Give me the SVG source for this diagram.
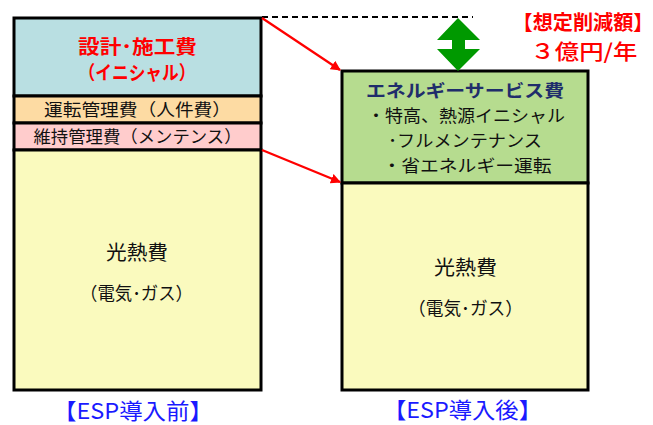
<svg xmlns="http://www.w3.org/2000/svg" width="653" height="425" viewBox="0 0 653 425">
<defs>
<style>
text{font-family:"Noto Sans CJK JP","Noto Sans CJK SC",sans-serif;text-anchor:middle}
.box{stroke:#000;stroke-width:3}
.k{fill:#111;font-size:17px}
.big{font-size:20px}
.paren{font-size:18px}
.red{fill:#FF0000;font-weight:bold}
.blue{fill:#1A1AFF;font-size:22px}
.conn{stroke:#FF0000;stroke-width:2.2;fill:none}
</style>
<marker id="ah" markerWidth="10" markerHeight="10" refX="9" refY="5" orient="auto" markerUnits="userSpaceOnUse" viewBox="0 0 10 10">
<path d="M0,0 L10,5 L0,10 Z" fill="#FF0000"/>
</marker>
</defs>
<rect width="653" height="425" fill="#fff"/>

<g id="before">
<g id="initial">
<rect class="box" x="14" y="18" width="247" height="78" fill="#B9DFE2"/>
<text class="red" x="137.5" y="54" font-size="19" textLength="119" lengthAdjust="spacingAndGlyphs">設計･施工費</text>
<text class="red" x="137" y="80" font-size="19" textLength="117" lengthAdjust="spacingAndGlyphs">（イニシャル）</text>
</g>
<g id="operation">
<rect class="box" x="14" y="96" width="247" height="27" fill="#FDDBA3" stroke-width="2"/>
<text class="k" x="137.5" y="116" textLength="187" lengthAdjust="spacingAndGlyphs">運転管理費（人件費）</text>
</g>
<g id="maintenance">
<rect class="box" x="14" y="123" width="247" height="27" fill="#FFCCCC" stroke-width="2"/>
<text class="k" x="137.5" y="143" textLength="208" lengthAdjust="spacingAndGlyphs">維持管理費（メンテンス）</text>
</g>
<g id="utility-before">
<rect class="box" x="14" y="150" width="247" height="240" fill="#FAFABE"/>
<text class="k big" x="137" y="260" textLength="62" lengthAdjust="spacingAndGlyphs">光熱費</text>
<text class="k paren" x="136.5" y="300" textLength="113" lengthAdjust="spacingAndGlyphs">（電気･ガス）</text>
</g>
</g>
<text id="label-before" class="blue" x="133" y="419" textLength="160" lengthAdjust="spacingAndGlyphs">【ESP導入前】</text>

<g id="after">
<g id="service">
<rect class="box" x="342" y="71" width="246" height="112" fill="#B6DC8F"/>
<text x="465" y="97" font-size="17.5" font-weight="bold" fill="#1F2D6B" textLength="198" lengthAdjust="spacingAndGlyphs">エネルギーサービス費</text>
<text class="k" x="466" y="122" textLength="198" lengthAdjust="spacingAndGlyphs">・特高、熱源イニシャル</text>
<text class="k" x="465" y="147" textLength="154" lengthAdjust="spacingAndGlyphs">･フルメンテナンス</text>
<text class="k" x="467" y="172" textLength="169" lengthAdjust="spacingAndGlyphs">・省エネルギー運転</text>
</g>
<g id="utility-after">
<rect class="box" x="342" y="183" width="246" height="207" fill="#FAFABE"/>
<text class="k big" x="465.5" y="275" textLength="63" lengthAdjust="spacingAndGlyphs">光熱費</text>
<text class="k paren" x="465.5" y="315" textLength="115" lengthAdjust="spacingAndGlyphs">（電気･ガス）</text>
</g>
</g>
<text id="label-after" class="blue" x="462.5" y="418" textLength="159" lengthAdjust="spacingAndGlyphs">【ESP導入後】</text>

<g id="reduction">
<text class="red" x="583" y="30" font-size="20" textLength="141" lengthAdjust="spacingAndGlyphs">【想定削減額】</text>
<text x="584" y="59" font-size="21" fill="#FF0000" font-weight="500" textLength="107" lengthAdjust="spacingAndGlyphs">３億円/年</text>
<path d="M458,18 L480,40 L465,40 L465,49 L480,49 L458,71 L437,49 L452,49 L452,40 L437,40 Z" fill="#009900"/>
</g>

<g id="connectors">
<line x1="262" y1="17" x2="473" y2="17" stroke="#000" stroke-width="2" stroke-dasharray="6,4"/>
<line class="conn" x1="262" y1="18" x2="340" y2="70" marker-end="url(#ah)"/>
<line class="conn" x1="262" y1="150" x2="340" y2="182" marker-end="url(#ah)"/>
</g>
</svg>
